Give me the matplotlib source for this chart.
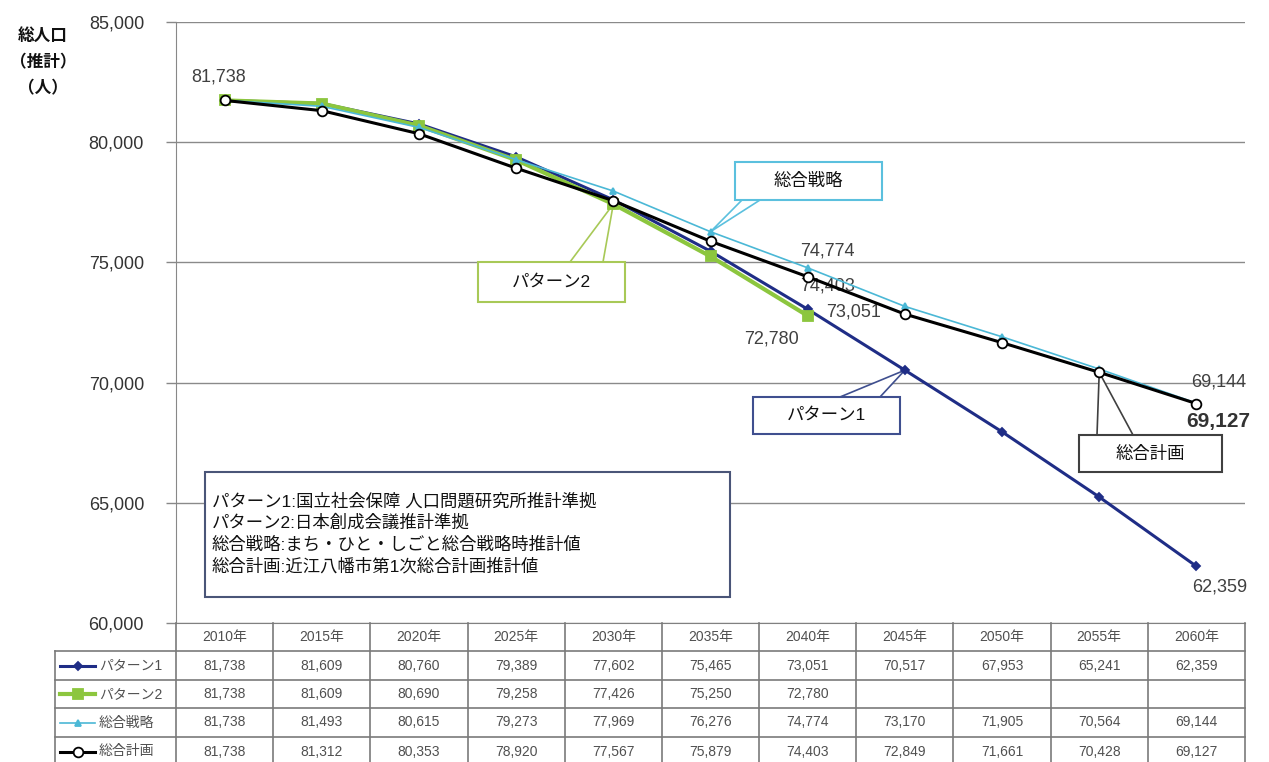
import matplotlib
matplotlib.use("Agg")
import matplotlib.pyplot as plt
from matplotlib.patches import Polygon
from matplotlib.ticker import FuncFormatter

plt.rcParams['font.family'] = ['Liberation Sans', 'Noto Sans CJK JP', 'DejaVu Sans']

# 年次と各推計値（人）
years = ['2010年', '2015年', '2020年', '2025年', '2030年', '2035年',
         '2040年', '2045年', '2050年', '2055年', '2060年']
names = ['パターン1', 'パターン2', '総合戦略', '総合計画']
pattern1 = [81738, 81609, 80760, 79389, 77602, 75465, 73051, 70517, 67953, 65241, 62359]
pattern2 = [81738, 81609, 80690, 79258, 77426, 75250, 72780]
senryaku = [81738, 81493, 80615, 79273, 77969, 76276, 74774, 73170, 71905, 70564, 69144]
keikaku = [81738, 81312, 80353, 78920, 77567, 75879, 74403, 72849, 71661, 70428, 69127]
notes = ['パターン1:国立社会保障 人口問題研究所推計準拠',
         'パターン2:日本創成会議推計準拠',
         '総合戦略:まち・ひと・しごと総合戦略時推計値',
         '総合計画:近江八幡市第1次総合計画推計値']

W, H = 1269, 762
fig = plt.figure(figsize=(W / 100, H / 100), dpi=100)
fig.patch.set_facecolor('white')

ax_l, ax_r, ax_t, ax_b = 176, 1245, 22, 623
ax = fig.add_axes([ax_l / W, 1 - ax_b / H, (ax_r - ax_l) / W, (ax_b - ax_t) / H])
ax.set_xlim(-0.5, len(years) - 0.5)
ax.set_ylim(60000, 85000)

c1, c2, c3, c4 = '#1f2d86', '#8cc63e', '#4bb8d6', '#000000'
series = [
    (pattern1, c1, 2.2, 'D', 4.5, c1, 2),
    (pattern2, c2, 3.0, 's', 6.5, c2, 3),
    (senryaku, c3, 1.2, '^', 5, c3, 4),
    (keikaku, c4, 2.2, 'o', 7, 'white', 5),
]
for vals, col, lw, mk, ms, mfc, z in series:
    ax.plot(range(len(vals)), vals, color=col, lw=lw, marker=mk, ms=ms,
            mfc=mfc, mec=col, mew=1.3, zorder=z)

ax.set_yticks(range(60000, 85001, 5000))
ax.yaxis.set_major_formatter(FuncFormatter(lambda v, p: f'{int(v):,}'))
ax.tick_params(axis='y', labelsize=13, labelcolor='#333333', color='#888888',
               length=7, width=1, pad=16)
ax.set_xticks([])
ax.grid(axis='y', color='#8a8a8a', lw=1)
ax.set_axisbelow(True)
for s in ['top', 'right']:
    ax.spines[s].set_visible(False)
ax.spines['left'].set_color('#888888')
ax.spines['bottom'].set_color('#808080')


def pd(x, y):
    # 画素座標 -> データ座標
    return ax.transData.inverted().transform((x, H - y))


# データラベル
lab = dict(fontsize=13, color='#404040', textcoords='offset points')
ax.annotate(f'{keikaku[0]:,}', (0, keikaku[0]), xytext=(-4, 17), ha='center', va='center', **lab)
ax.annotate(f'{senryaku[6]:,}', (6, senryaku[6]), xytext=(14, 12), ha='center', va='center', **lab)
ax.annotate(f'{keikaku[6]:,}', (6, keikaku[6]), xytext=(14, -7), ha='center', va='center', **lab)
ax.annotate(f'{pattern1[6]:,}', (6, pattern1[6]), xytext=(13, -2), ha='left', va='center', **lab)
ax.annotate(f'{pattern2[6]:,}', (6, pattern2[6]), xytext=(-26, -17), ha='center', va='center', **lab)
ax.annotate(f'{senryaku[10]:,}', (10, senryaku[10]), xytext=(16, 15), ha='center', va='center', **lab)
ax.annotate(f'{keikaku[10]:,}', (10, keikaku[10]), xytext=(16, -13), ha='center', va='center',
            fontsize=15, fontweight='bold', color='#333333', textcoords='offset points')
ax.annotate(f'{pattern1[10]:,}', (10, pattern1[10]), xytext=(17, -15), ha='center', va='center', **lab)


def callout(label, box, base, tip, edge):
    x0, y0, x1, y1 = box
    wedge = [pd(*base[0]), tip, pd(*base[1])]
    ax.add_patch(Polygon(wedge, closed=True, fc='white', ec=edge, lw=1.2, zorder=1.5))
    rect = [pd(x0, y0), pd(x1, y0), pd(x1, y1), pd(x0, y1)]
    ax.add_patch(Polygon(rect, closed=True, fc='white', ec=edge, lw=1.5, zorder=6))
    cx, cy = pd((x0 + x1) / 2, (y0 + y1) / 2)
    ax.text(cx, cy, label, ha='center', va='center', fontsize=12.5, color='#111111', zorder=7)


callout('総合戦略', (735, 162, 882, 200), [(742, 200), (760, 200)], (5, senryaku[5]), '#5bc0de')
callout('パターン2', (478, 262, 625, 302), [(570, 262), (603, 262)], (4, pattern2[4]), '#a8c957')
callout('パターン1', (753, 397, 900, 434), [(840, 397), (880, 397)], (7, pattern1[7]), '#3f4f8f')
callout('総合計画', (1079, 435, 1222, 472), [(1097, 435), (1133, 435)], (9, keikaku[9]), '#404040')

# 凡例説明の枠
bx0, by0, bx1, by1 = 205, 472, 730, 597
rect = [pd(bx0, by0), pd(bx1, by0), pd(bx1, by1), pd(bx0, by1)]
ax.add_patch(Polygon(rect, closed=True, fc='white', ec='#4a5578', lw=1.5, zorder=6))
for i, t in enumerate(notes):
    tx, ty = pd(212, 501 + i * 21.8)
    ax.text(tx, ty, t, ha='left', va='center', fontsize=12.5, color='#111111', zorder=7)

# 下部のデータ表
ov = fig.add_axes([0, 0, 1, 1])
ov.set_xlim(0, W)
ov.set_ylim(H, 0)
ov.axis('off')
ov.patch.set_visible(False)

cw = (ax_r - ax_l) / len(years)
rows = [623, 651, 680, 708, 737, 766]
gcol = '#7a7a7a'
for k in range(len(years) + 1):
    ov.plot([ax_l + k * cw] * 2, [rows[0], rows[-1]], color=gcol, lw=1.2)
ov.plot([55, 55], [rows[1], rows[-1]], color=gcol, lw=1.2)
for r in rows[1:]:
    ov.plot([55, ax_r], [r, r], color=gcol, lw=1.2)

tcol = '#505050'
for k, y in enumerate(years):
    ov.text(ax_l + (k + 0.5) * cw, (rows[0] + rows[1]) / 2, y, ha='center', va='center',
            fontsize=10, color=tcol)

table = [pattern1, pattern2, senryaku, keikaku]
for r, (vals, (_, col, lw, mk, ms, mfc, _z)) in enumerate(zip(table, series)):
    yc = (rows[r + 1] + rows[r + 2]) / 2
    ov.plot([60, 95], [yc, yc], color=col, lw=lw)
    ov.plot([77.5], [yc], marker=mk, ms=ms, mfc=mfc, mec=col, mew=1.3, color=col)
    ov.text(99, yc, names[r], ha='left', va='center', fontsize=10, color=tcol)
    for k, v in enumerate(vals):
        ov.text(ax_l + (k + 0.5) * cw, yc, f'{v:,}', ha='center', va='center',
                fontsize=10, color=tcol)

# 縦軸タイトル
for t, yy in zip(['総人口', '（推計）', '（人）'], [36, 62, 88]):
    ov.text(43, yy, t, ha='center', va='center', fontsize=12, fontweight='bold', color='#111111')

fig.savefig('out.png', dpi=100)
